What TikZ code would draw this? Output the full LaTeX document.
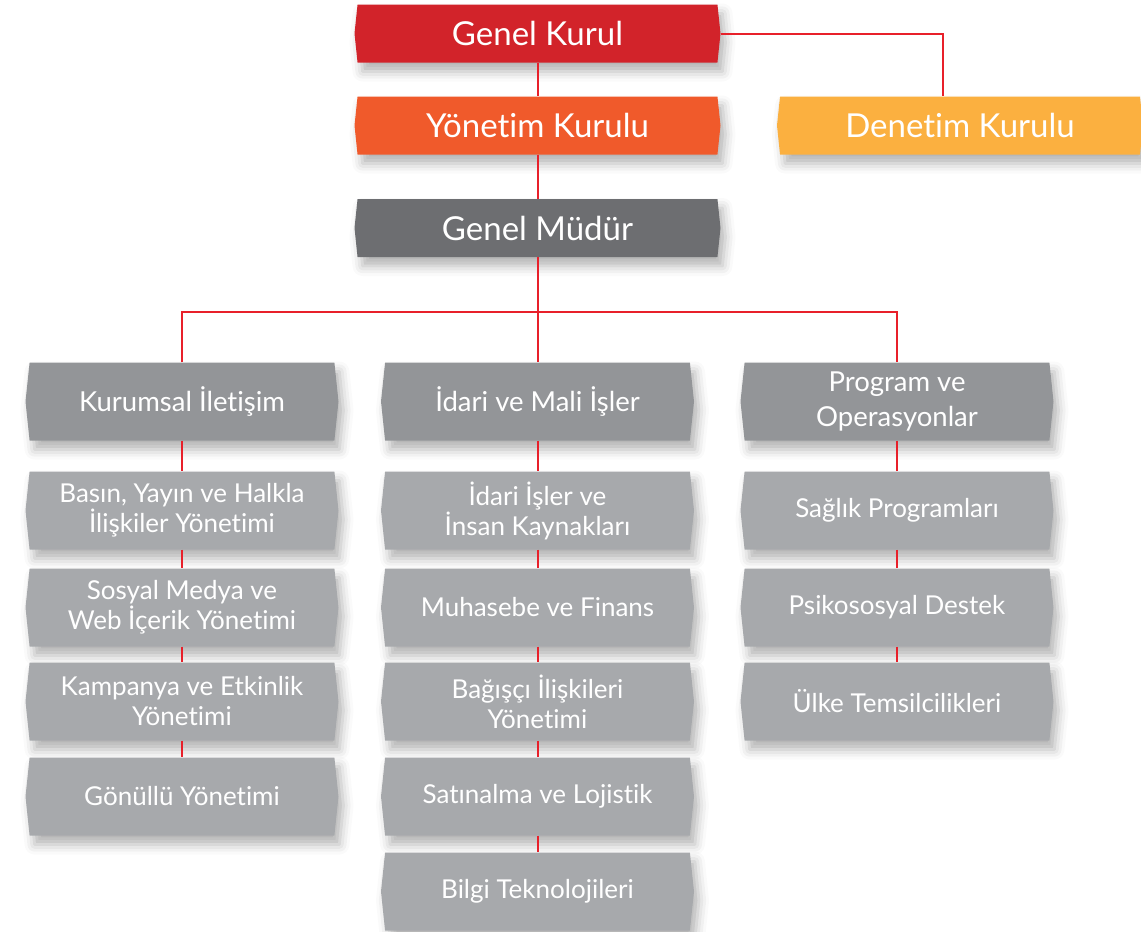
\documentclass[tikz,border=0pt]{standalone}
\usepackage{fontspec}
\setmainfont{Lato}[Ligatures=NoCommon]
\usetikzlibrary{shapes.symbols,shadows.blur}
\definecolor{cRed}{HTML}{D2232A}
\definecolor{cOrange}{HTML}{F05A2B}
\definecolor{cYellow}{HTML}{FBB040}
\definecolor{cDark}{HTML}{6D6E71}
\definecolor{cHead}{HTML}{939598}
\definecolor{cSub}{HTML}{A7A9AC}
\definecolor{cLine}{HTML}{E8202A}
\tikzset{
  box/.style={signal, signal to=west and east, signal pointer angle=168,
    text=white, align=center, inner sep=0pt,
    blur shadow={shadow xshift=5pt, shadow yshift=-9pt, shadow blur radius=10pt, shadow opacity=30}},
  topbox/.style={box, minimum width=366pt, minimum height=58pt, font=\fontsize{33}{38}\selectfont},
  headbox/.style={box, fill=cHead, minimum width=313pt, minimum height=78pt, font=\fontsize{27.5}{35}\selectfont},
  subbox/.style={box, fill=cSub, minimum width=313pt, minimum height=78pt, font=\fontsize{26}{30}\selectfont},
  link/.style={draw=cLine, line width=2pt}
}
\begin{document}
\begin{tikzpicture}[x=1pt,y=-1pt]
\useasboundingbox (0,0) rectangle (1141,932);
% top
\node[topbox, fill=cRed] (GK) at (537.5,33.5) {Genel Kurul};
\node[topbox, fill=cOrange] (YK) at (537.5,125.5) {Yönetim Kurulu};
\node[topbox, fill=cYellow] (DK) at (960,125.5) {Denetim Kurulu};
\node[topbox, fill=cDark] (GM) at (537.5,228) {Genel Müdür};
% column 1
\node[headbox] (KI) at (182,401.5) {Kurumsal İletişim};
\node[subbox] (K1) at (182,510.5) {Basın, Yayın ve Halkla\\İlişkiler Yönetimi};
\node[subbox] (K2) at (182,607.5) {Sosyal Medya ve\\Web İçerik Yönetimi};
\node[subbox] (K3) at (182,701.5) {Kampanya ve Etkinlik\\Yönetimi};
\node[subbox] (K4) at (182,796.5) {Gönüllü Yönetimi};
% column 2
\node[headbox] (IM) at (537.5,401.5) {İdari ve Mali İşler};
\node[subbox] (I1) at (537.5,510.5) {İdari İşler ve\\İnsan Kaynakları};
\node[subbox] (I2) at (537.5,607.5) {Muhasebe ve Finans};
\node[subbox] (I3) at (537.5,701.5) {Bağışçı İlişkileri\\Yönetimi};
\node[subbox] (I4) at (537.5,796.5) {Satınalma ve Lojistik};
\node[subbox] (I5) at (537.5,891.5) {Bilgi Teknolojileri};
% column 3
\node[headbox] (PO) at (897,401.5) {Program ve\\Operasyonlar};
\node[subbox] (P1) at (897,510.5) {Sağlık Programları};
\node[subbox] (P2) at (897,607.5) {Psikososyal Destek};
\node[subbox] (P3) at (897,701.5) {Ülke Temsilcilikleri};
% connectors
\coordinate (bar) at (537.5,312);
\draw[link] (GK.south) -- (YK.north);
\draw[link] (YK.south) -- (GM.north);
\draw[link] (GK.east) -| ([xshift=-17pt]DK.north);
\draw[link] (GM.south) -- (IM.north);
\draw[link] (KI.north) |- (bar) -| (PO.north);
\draw[link] (KI.south) -- (K1.north);
\draw[link] (K1.south) -- (K2.north);
\draw[link] (K2.south) -- (K3.north);
\draw[link] (K3.south) -- (K4.north);
\draw[link] (IM.south) -- (I1.north);
\draw[link] (I1.south) -- (I2.north);
\draw[link] (I2.south) -- (I3.north);
\draw[link] (I3.south) -- (I4.north);
\draw[link] (I4.south) -- (I5.north);
\draw[link] (PO.south) -- (P1.north);
\draw[link] (P1.south) -- (P2.north);
\draw[link] (P2.south) -- (P3.north);
\end{tikzpicture}
\end{document}
